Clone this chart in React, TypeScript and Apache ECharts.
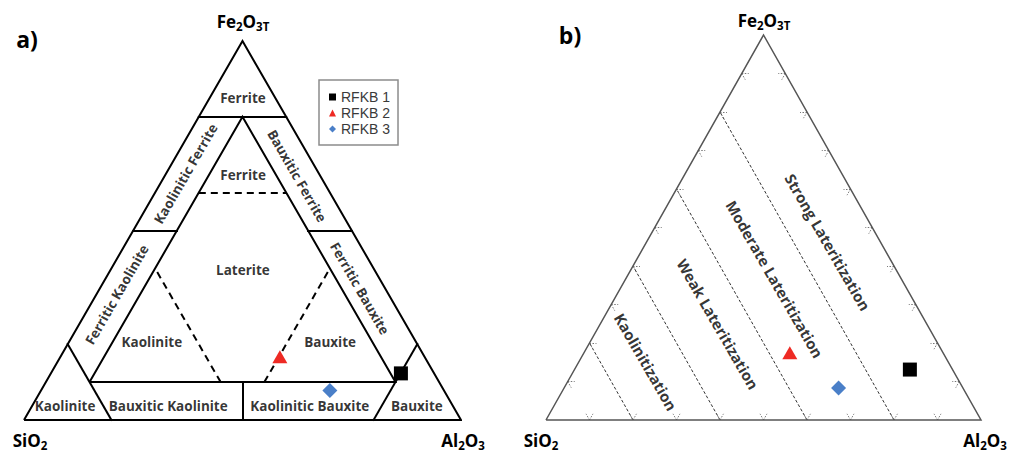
import React, { useEffect, useRef } from "react";
import * as echarts from "echarts";

// ---------- data ----------
const samples = ["RFKB 1", "RFKB 2", "RFKB 3"];
// panel a: plotted compositions (%)
const sio2A = [7.6, 33.1, 26.1];
const al2o3A = [80.1, 50.2, 66.1];
const fe2o3A = [12.3, 16.7, 7.8];
// panel b: plotted compositions (%)
const sio2B = [9.8, 35.2, 28.6];
const al2o3B = [77.1, 47.3, 63.1];
const fe2o3B = [13.1, 17.5, 8.3];

const sampleSymbols = ["rect", "triangle", "diamond"];
const sampleColors = ["#000000", "#ee2a24", "#4a7fc8"];

// panel a field boundaries [SiO2, Al2O3, Fe2O3] (%)
const outerTriangle = [[100, 0, 0], [0, 100, 0], [0, 0, 100], [100, 0, 0]];
const innerTriangle = [[80, 10, 10], [10, 80, 10], [10, 10, 80], [80, 10, 10]];
const solidBoundariesA = [
  [[20, 0, 80], [0, 20, 80]],
  [[80, 20, 0], [80, 0, 20]],
  [[20, 80, 0], [0, 80, 20]],
  [[50, 0, 50], [40, 10, 50]],
  [[0, 50, 50], [10, 40, 50]],
  [[50, 50, 0], [45, 45, 10]],
];
const dashedBoundariesA = [
  [[30, 10, 60], [10, 30, 60]],
  [[50, 40, 10], [50, 10, 40]],
  [[40, 50, 10], [10, 50, 40]],
];
// field names for panel a
const fieldNamesA = [
  "Ferrite", "Ferrite", "Kaolinitic Ferrite", "Bauxitic Ferrite",
  "Ferritic Kaolinite", "Ferritic Bauxite", "Laterite", "Kaolinite",
  "Bauxite", "Kaolinite", "Bauxitic Kaolinite", "Kaolinitic Bauxite", "Bauxite",
];
const fieldPosA = [
  [7.4, 7.6, 85], [17.5, 17.8, 64.7], [30.5, 4.5, 65], [5.3, 30.3, 64.4],
  [62.2, 4.7, 33.1], [5.8, 59.5, 34.7], [30.1, 30.3, 39.6], [60.4, 18.9, 20.7],
  [19.6, 59.7, 20.7], [88.7, 7.5, 3.8], [65.1, 31.1, 3.8], [32.7, 63.5, 3.8], [8.2, 88.0, 3.8],
];
const fieldRotA = [0, 0, 60, -60, 60, -60, 0, 0, 0, 0, 0, 0, 0];

// panel b: constant-SiO2 lines and zones
const siLevelsB = [80, 60, 40, 20];
const zoneNamesB = ["Kaolinitization", "Weak Lateritization", "Moderate Lateritization", "Strong Lateritization"];
const zonePosB = [[69.5, 15.4, 15.1], [48, 27.1, 24.9], [29.1, 34.3, 36.6], [12.1, 41.7, 46.2]];
const tickLevels = [10, 20, 30, 40, 50, 60, 70, 80, 90];

// ---------- helpers ----------
const toXY = (c: number[]) => {
  const s = c[0] + c[1] + c[2];
  return [(c[1] + c[2] / 2) / s, c[2] / s];
};

const FONT = "Open Sans";

function buildOption() {
  const series: any[] = [];

  // Panel a frame
  [outerTriangle, innerTriangle].forEach((poly) => {
    series.push({
      type: "line",
      xAxisIndex: 0,
      yAxisIndex: 0,
      data: poly.map(toXY),
      showSymbol: false,
      symbol: "none",
      clip: false,
      silent: true,
      lineStyle: { color: "#000", width: 2, join: "miter", opacity: 1 },
    });
  });
  series.push({
    type: "lines",
    coordinateSystem: "cartesian2d",
    xAxisIndex: 0,
    yAxisIndex: 0,
    silent: true,
    clip: false,
    data: solidBoundariesA.map((s) => ({ coords: s.map(toXY) })),
    lineStyle: { color: "#000", width: 2, cap: "square", opacity: 1 },
  });
  series.push({
    type: "lines",
    coordinateSystem: "cartesian2d",
    xAxisIndex: 0,
    yAxisIndex: 0,
    silent: true,
    clip: false,
    data: dashedBoundariesA.map((s) => ({ coords: s.map(toXY) })),
    lineStyle: { color: "#000", width: 2, type: [7, 5], opacity: 1 },
  });
  series.push({
    type: "scatter",
    xAxisIndex: 0,
    yAxisIndex: 0,
    symbolSize: 0,
    silent: true,
    clip: false,
    data: fieldNamesA.map((n, i) => ({
      name: n,
      value: toXY(fieldPosA[i]),
      label: { rotate: fieldRotA[i] },
    })),
    label: {
      show: true,
      position: "inside",
      formatter: "{b}",
      fontFamily: FONT,
      fontWeight: "bold",
      fontSize: 13.5,
      color: "#000",
    },
  });

  // Panel b frame
  series.push({
    type: "line",
    xAxisIndex: 1,
    yAxisIndex: 1,
    data: outerTriangle.map(toXY),
    showSymbol: false,
    symbol: "none",
    clip: false,
    silent: true,
    lineStyle: { color: "#555", width: 1.5, join: "miter", opacity: 1 },
  });
  series.push({
    type: "lines",
    coordinateSystem: "cartesian2d",
    xAxisIndex: 1,
    yAxisIndex: 1,
    silent: true,
    clip: false,
    data: siLevelsB.map((s) => ({ coords: [toXY([s, 100 - s, 0]), toXY([s, 0, 100 - s])] })),
    lineStyle: { color: "#333", width: 1, type: [3, 2], opacity: 1 },
  });
  const d = 1.6;
  const ticks: any[] = [];
  tickLevels.forEach((t) => {
    const edges = [
      [[100 - t, t, 0], [100 - t - d, t, d], [100 - t, t - d, d]],
      [[100 - t, 0, t], [100 - t - d, d, t], [100 - t, d, t - d]],
      [[0, 100 - t, t], [d, 100 - t - d, t], [d, 100 - t, t - d]],
    ];
    edges.forEach((e) => {
      ticks.push({ coords: [toXY(e[0]), toXY(e[1])] });
      ticks.push({ coords: [toXY(e[0]), toXY(e[2])] });
    });
  });
  series.push({
    type: "lines",
    coordinateSystem: "cartesian2d",
    xAxisIndex: 1,
    yAxisIndex: 1,
    silent: true,
    clip: false,
    data: ticks,
    lineStyle: { color: "#777", width: 1, type: [1.5, 1.5], opacity: 1 },
  });
  series.push({
    type: "scatter",
    xAxisIndex: 1,
    yAxisIndex: 1,
    symbolSize: 0,
    silent: true,
    clip: false,
    data: zoneNamesB.map((n, i) => ({ name: n, value: toXY(zonePosB[i]) })),
    label: {
      show: true,
      position: "inside",
      formatter: "{b}",
      rotate: -60,
      fontFamily: FONT,
      fontWeight: "bold",
      fontSize: 15,
      color: "#000",
    },
  });

  // samples
  const panels = [
    [sio2A, al2o3A, fe2o3A],
    [sio2B, al2o3B, fe2o3B],
  ];
  panels.forEach((p, pi) => {
    samples.forEach((name, i) => {
      series.push({
        type: "scatter",
        name,
        xAxisIndex: pi,
        yAxisIndex: pi,
        clip: false,
        symbol: sampleSymbols[i],
        symbolSize: i === 0 ? 14 : i === 1 ? [15, 13] : [15, 15],
        itemStyle: { color: sampleColors[i], opacity: 1 },
        data: [toXY([p[0][i], p[1][i], p[2][i]])],
      });
    });
  });

  const vertexRich = {
    m: { fontFamily: FONT, fontWeight: "bold", fontSize: 17, color: "#000" },
    s: { fontFamily: FONT, fontWeight: "bold", fontSize: 11.5, color: "#000", padding: [10, 0, 0, 0] },
  };
  const vText = (x: number, y: number, text: string) => ({
    type: "text",
    x,
    y,
    silent: true,
    style: {
      text,
      rich: vertexRich,
      align: "center",
      verticalAlign: "middle",
      textAlign: "center",
      textVerticalAlign: "middle",
    },
  });
  const title = (x: number, y: number, text: string) => ({
    type: "text",
    x,
    y,
    silent: true,
    style: {
      text,
      font: `bold 23px ${FONT}`,
      fill: "#000",
      align: "center",
      verticalAlign: "middle",
      textAlign: "center",
      textVerticalAlign: "middle",
    },
  });

  return {
    animation: false,
    backgroundColor: "#fff",
    grid: [
      { left: 24, top: 41, width: 437, height: 379 },
      { left: 546, top: 35, width: 435, height: 385 },
    ],
    xAxis: [0, 1].map((i) => ({ type: "value", gridIndex: i, min: 0, max: 1, show: false })),
    yAxis: [0, 1].map((i) => ({ type: "value", gridIndex: i, min: 0, max: 1, show: false })),
    legend: {
      data: samples,
      orient: "vertical",
      left: 319,
      top: 80,
      itemWidth: 7,
      itemHeight: 7,
      itemGap: 2,
      padding: [10, 8, 9, 10],
      borderColor: "#8c8c8c",
      borderWidth: 1.5,
      selectedMode: false,
      textStyle: { fontFamily: "Liberation Sans", fontSize: 14, color: "#3a3a3a" },
    },
    graphic: [
      title(27, 39, "a)"),
      title(570, 35, "b)"),
      vText(243, 21, "{m|Fe}{s|2}{m|O}{s|3T}"),
      vText(30, 440, "{m|SiO}{s|2}"),
      vText(463, 440, "{m|Al}{s|2}{m|O}{s|3}"),
      vText(764, 20, "{m|Fe}{s|2}{m|O}{s|3T}"),
      vText(541, 440, "{m|SiO}{s|2}"),
      vText(985, 440, "{m|Al}{s|2}{m|O}{s|3}"),
    ],
    series,
  };
}

export default function App() {
  const ref = useRef<HTMLDivElement>(null);
  useEffect(() => {
    if (!ref.current) return;
    const chart = echarts.init(ref.current, undefined, { renderer: "svg" });
    chart.setOption(buildOption() as any);
    return () => chart.dispose();
  }, []);
  return (
    <div
      ref={ref}
      style={{ position: "absolute", left: 0, top: 0, width: 1022, height: 454, background: "#fff" }}
    />
  );
}
